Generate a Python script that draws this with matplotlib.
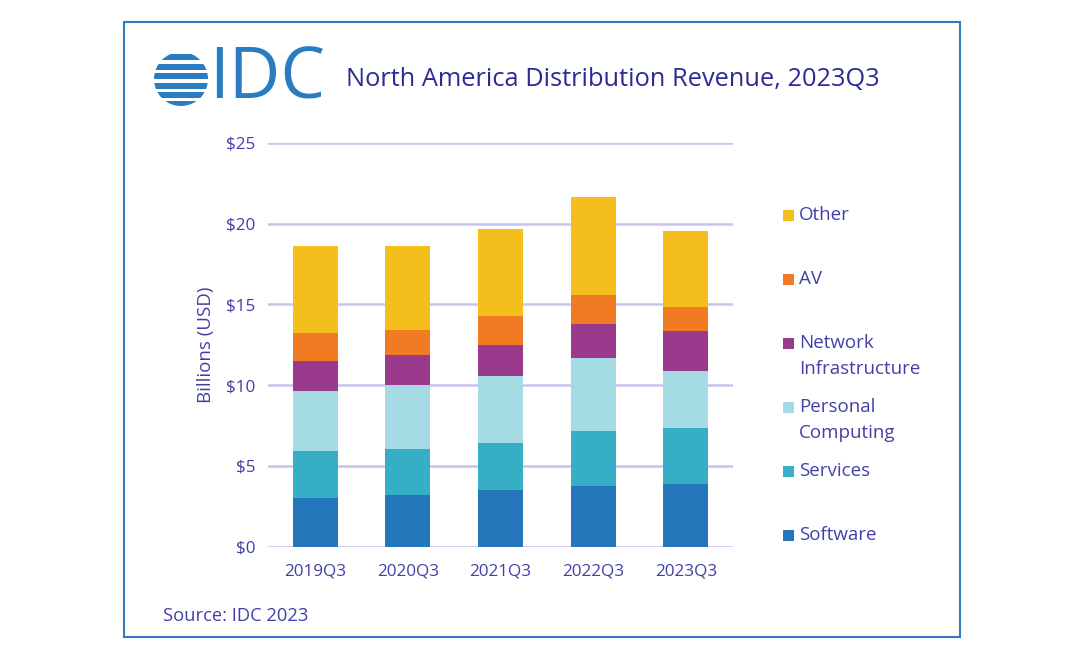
import numpy as np
import matplotlib
matplotlib.use('Agg')
import matplotlib.pyplot as plt
from matplotlib.patches import Rectangle, Circle

#%% data (billions USD)
quarters = ['2019Q3', '2020Q3', '2021Q3', '2022Q3', '2023Q3']
software = [3.04, 3.22, 3.52, 3.78, 3.89]
services = [2.91, 2.82, 2.89, 3.41, 3.43]
personal_computing = [3.70, 3.98, 4.19, 4.49, 3.59]
network_infra = [1.88, 1.86, 1.92, 2.11, 2.42]
av = [1.70, 1.53, 1.78, 1.77, 1.49]
other = [5.41, 5.23, 5.38, 6.10, 4.75]

y_ticks = [0, 5, 10, 15, 20, 25]
y_tick_labels = ['$0', '$5', '$10', '$15', '$20', '$25']

series = [software, services, personal_computing, network_infra, av, other]
names = ['Software', 'Services', 'Personal\nComputing', 'Network\nInfrastructure', 'AV', 'Other']
colors = ['#2577bb', '#36afc6', '#a5dbe5', '#9a3a8c', '#f07b22', '#f4bf1c']

#%% style
plt.rcParams['font.family'] = ['Open Sans', 'DejaVu Sans']
txt_col = '#433fa8'
title_col = '#2c2b93'
logo_col = '#2a7cc0'

fig = plt.figure(figsize=(10.8, 6.6), dpi=100)

# background layer in pixel coords
bg = fig.add_axes([0, 0, 1, 1], zorder=0)
bg.set_xlim(0, 1080)
bg.set_ylim(660, 0)
bg.axis('off')

# frame
bg.add_patch(Rectangle((124, 22), 836, 615, fill=False, edgecolor='#2f7dc0', lw=1.5))

# logo globe: stripes clipped by a circle
globe = Circle((181, 79), 27, transform=bg.transData)
stripe_y = [54, 63.5, 73, 82.5, 92, 101]
for sy in stripe_y:
    r = bg.add_patch(Rectangle((150, sy), 62, 6.0, color=logo_col, lw=0))
    r.set_clip_path(globe)
bg.text(209, 80, 'IDC', fontsize=51, color=logo_col, va='center', ha='left',
        family='Open Sans')

# title
bg.text(346, 80, 'North America Distribution Revenue, 2023Q3', fontsize=18.3,
        color=title_col, va='center', ha='left')

# source
bg.text(163, 616, 'Source: IDC 2023', fontsize=13.2, color=txt_col, va='center', ha='left')

#%% chart
ax = fig.add_axes([268 / 1080, 1 - 546.7 / 660, 465 / 1080, 403.7 / 660], zorder=1)
ax.patch.set_alpha(0)

x = np.arange(len(quarters))
bottom = np.zeros(len(quarters))
for vals, col in zip(series, colors):
    ax.bar(x, vals, width=0.485, bottom=bottom, color=col, zorder=3)
    bottom += np.array(vals)

ax.set_xlim(-0.507, 4.507)
ax.set_ylim(0, 25)
ax.set_yticks(y_ticks)
ax.set_yticklabels(y_tick_labels)
ax.set_xticks(x)
ax.set_xticklabels(quarters)
ax.grid(axis='y', color='#c6c2f2', lw=1.8, zorder=0)
for s in ax.spines.values():
    s.set_visible(False)
ax.tick_params(length=0, labelsize=12.3, colors=txt_col)
ax.tick_params(axis='y', pad=9)
ax.tick_params(axis='x', pad=12)
ax.set_ylabel('Billions (USD)', fontsize=13.5, color=txt_col, labelpad=8)

#%% legend, drawn by hand so the square sits on the first line
leg_y = {'Other': 215, 'AV': 279, 'Network\nInfrastructure': 343,
         'Personal\nComputing': 407, 'Services': 471, 'Software': 535}
for name, col in zip(names, colors):
    y0 = leg_y[name]
    bg.add_patch(Rectangle((783, y0 - 5.5), 11, 11, color=col, lw=0))
    for k, line in enumerate(name.split('\n')):
        bg.text(799, y0 + 26 * k, line, fontsize=13.5, color=txt_col,
                va='center', ha='left')

plt.savefig('out.png', dpi=100)
